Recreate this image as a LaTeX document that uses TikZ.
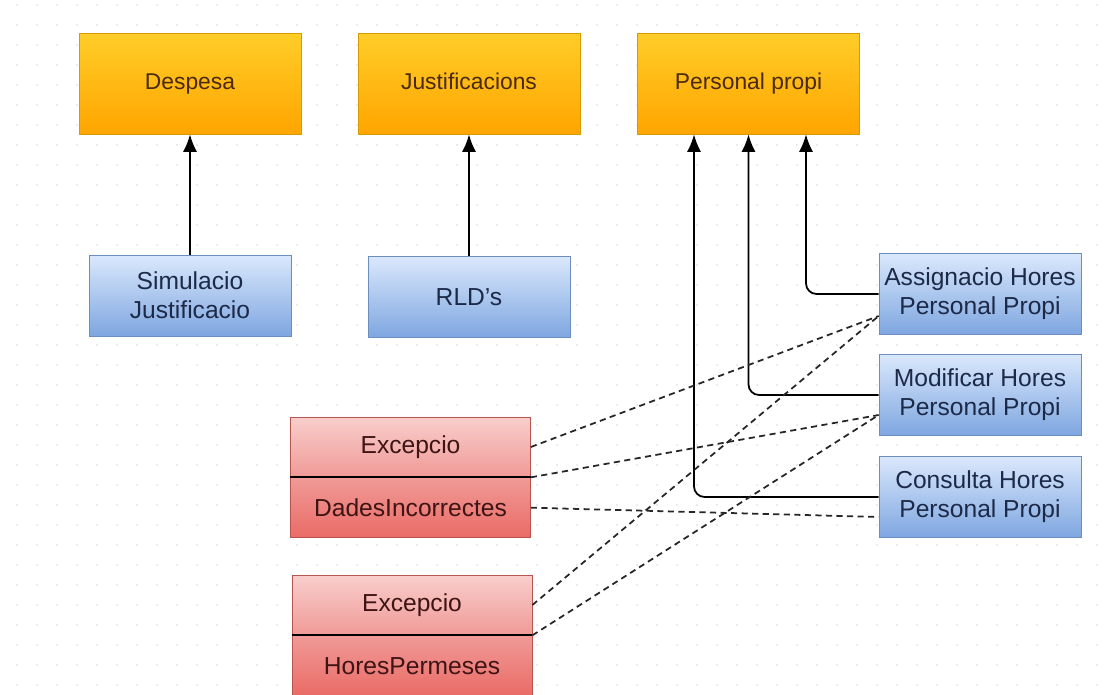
\documentclass[tikz,border=0pt]{standalone}
\usepackage{fontspec}
\setmainfont{Liberation Sans}
\usetikzlibrary{positioning,arrows.meta,calc}

\definecolor{gridgray}{RGB}{215,215,215}
\definecolor{orangetop}{HTML}{FFCD28}
\definecolor{orangebot}{HTML}{FFA500}
\definecolor{orangeline}{HTML}{D79B00}
\definecolor{orangetext}{HTML}{4A2A10}
\definecolor{bluetop}{HTML}{DAE8FC}
\definecolor{bluebot}{HTML}{7EA6E0}
\definecolor{blueline}{HTML}{6C8EBF}
\definecolor{bluetext}{HTML}{1C2A48}
\definecolor{redtop}{HTML}{F8CECC}
\definecolor{redmid}{HTML}{F09A97}
\definecolor{redbot}{HTML}{EA6B66}
\definecolor{redline}{HTML}{B85450}
\definecolor{redtext}{HTML}{3E1414}

\tikzset{
  orangebox/.style={draw=orangeline, top color=orangetop, bottom color=orangebot,
    minimum width=4.44cm, minimum height=2.02cm, text=orangetext,
    text height=1.5ex, text depth=0.25ex,
    font=\fontsize{13}{16}\selectfont},
  bluebox/.style={draw=blueline, top color=bluetop, bottom color=bluebot,
    minimum width=4.04cm, minimum height=1.62cm, inner sep=1pt, align=center,
    text=bluetext, font=\fontsize{14}{16.5}\selectfont},
  redbox/.style={draw=redline, minimum width=4.8cm, minimum height=1.2cm,
    text=redtext, font=\fontsize{14}{16.5}\selectfont},
  redhead/.style={redbox, top color=redtop, bottom color=redmid},
  redname/.style={redbox, top color=redmid, bottom color=redbot},
  link/.style={draw=black, line width=1pt, ->, >={Latex[length=10pt,width=8pt]}},
  dep/.style={draw=black!85, line width=1pt, dash pattern=on 3.5pt off 2.5pt},
}

\begin{document}
\begin{tikzpicture}[x=0.02cm, y=-0.02cm]
    \useasboundingbox (0,0) rectangle (1111,695);

    % fons de punts
    \foreach \gx in {17,37,...,1097}
        \foreach \gy in {5,25,...,685}
            \fill[gridgray] (\gx,\gy) circle (0.45pt);

    % Entitats
    \node[orangebox] (despesa) at (190,83.5) {Despesa};
    \node[orangebox] (justif) at (469,83.5) {Justificacions};
    \node[orangebox] (perso) at (748.5,83.5) {Personal propi};

    % Operacions
    \node[bluebox] (simul) at (190,295.5) {Simulacio\\Justificacio};
    \node[bluebox] (rld) at (469,297) {RLD's};
    \node[bluebox] (asg) at (980,294) {Assignacio Hores\\Personal Propi};
    \node[bluebox] (modif) at (980,395) {Modificar Hores\\Personal Propi};
    \node[bluebox] (consu) at (980,497) {Consulta Hores\\Personal Propi};

    % Excepcions
    \node[redhead] (excA) at (410.5,447) {Excepcio};
    \node[redname, below=0pt of excA] (excAname) {DadesIncorrectes};
    \draw[black, line width=1pt] (excA.south west) -- (excA.south east);

    \node[redhead] (excB) at (412,605) {Excepcio};
    \node[redname, below=0pt of excB] (excBname) {HoresPermeses};
    \draw[black, line width=1pt] (excB.south west) -- (excB.south east);

    % Fletxes
    \draw[link] (simul) -- (despesa);
    \draw[link] (rld) -- (justif);
    \draw[link, rounded corners=6pt] (asg.west) -| ([xshift=1.15cm]perso.south);
    \draw[link, rounded corners=6pt] (modif.west) -| (perso.south);
    \draw[link, rounded corners=6pt] (consu.west) -| ([xshift=-1.09cm]perso.south);

    % Dependencies
    \draw[dep] (excA.east) -- ([yshift=-0.44cm]asg.west);
    \draw[dep] (excA.south east) -- ([yshift=-0.4cm]modif.west);
    \draw[dep] (excAname.east) -- ([yshift=-0.4cm]consu.west);
    \draw[dep] (excB.east) -- ([yshift=-0.44cm]asg.west);
    \draw[dep] (excB.south east) -- ([yshift=-0.4cm]modif.west);
\end{tikzpicture}
\end{document}
